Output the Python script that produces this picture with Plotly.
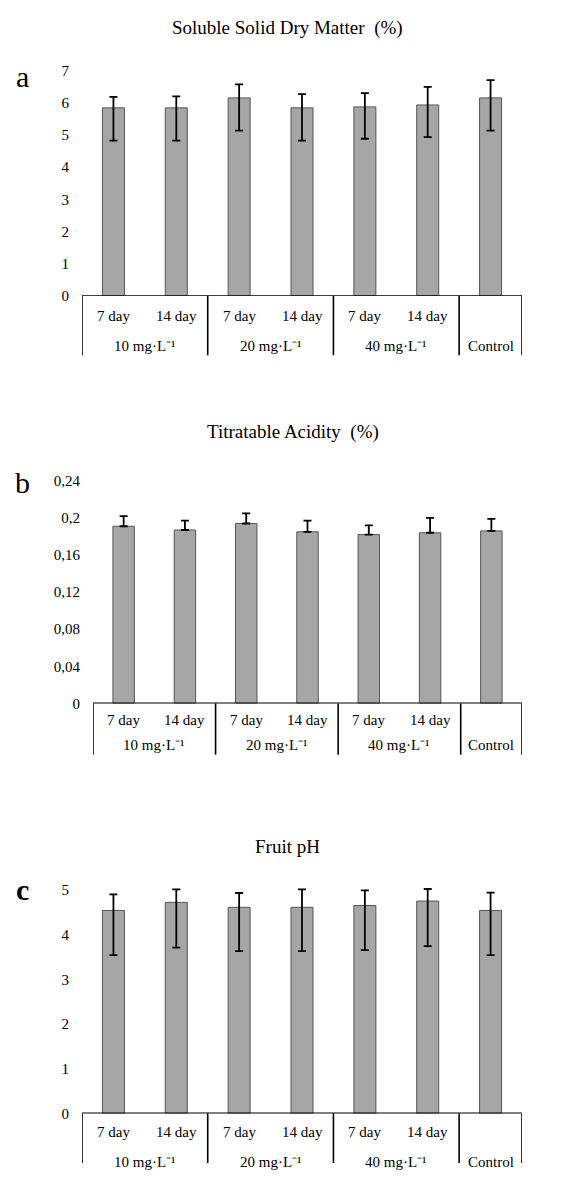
import plotly.graph_objects as go

# ---------------- data ----------------
day_labels = ["7 day", "14 day", "7 day", "14 day", "7 day", "14 day", ""]
group_labels = ["10 mg·L⁻¹", "20 mg·L⁻¹", "40 mg·L⁻¹", "Control"]
group_sizes = [2, 2, 2, 1]

ssdm = [5.84, 5.84, 6.15, 5.84, 5.87, 5.93, 6.15]
ssdm_plus = [0.34, 0.36, 0.42, 0.43, 0.43, 0.56, 0.55]
ssdm_minus = [1.02, 1.02, 1.02, 1.02, 0.99, 1.00, 1.02]

ta = [0.191, 0.187, 0.194, 0.185, 0.182, 0.184, 0.186]
ta_plus = [0.011, 0.010, 0.011, 0.012, 0.010, 0.016, 0.013]
ta_minus = [0, 0, 0, 0, 0, 0, 0]

ph = [4.54, 4.72, 4.61, 4.61, 4.65, 4.75, 4.54]
ph_plus = [0.36, 0.29, 0.32, 0.40, 0.34, 0.27, 0.40]
ph_minus = [1.00, 1.01, 0.98, 0.98, 1.00, 1.01, 1.00]

ssdm_ticks = [0, 1, 2, 3, 4, 5, 6, 7]
ta_ticks = [0, 0.04, 0.08, 0.12, 0.16, 0.2, 0.24]
ta_ticktext = ["0", "0,04", "0,08", "0,12", "0,16", "0,2", "0,24"]
ph_ticks = [0, 1, 2, 3, 4, 5]

titles = ["Soluble Solid Dry Matter  (%)", "Titratable Acidity  (%)", "Fruit pH"]
panel_letters = ["a", "b", "c"]

# ---------------- layout helpers ----------------
# the page body has an 8px default margin: size the figure so the page fits the window
PAGE_W, PAGE_H, BODY_M = 564, 1179, 8
W, H = PAGE_W - 2 * BODY_M, PAGE_H - 2 * BODY_M
FONT = "Liberation Serif"
BAR_FILL = "#a6a6a6"
BAR_LINE = "#555555"

def py(p):  # page pixel y -> paper y
    return 1 - (p - BODY_M) / H

def px(p):  # page pixel x -> paper x
    return (p - BODY_M) / W

panels = [
    dict(vals=ssdm, plus=ssdm_plus, minus=ssdm_minus, yrange=[0, 7],
         tickvals=ssdm_ticks, ticktext=[str(t) for t in ssdm_ticks],
         xdom=[px(82), px(522)], ydom=[py(291.7), py(63.3)],
         day_shift=-20, grp_shift=-50, div_px=(291.7, 352),
         title_xy=(287, 20), letter_xy=(22, 69), letter_bold=False),
    dict(vals=ta, plus=ta_plus, minus=ta_minus, yrange=[0, 0.24],
         tickvals=ta_ticks, ticktext=ta_ticktext,
         xdom=[px(93), px(522)], ydom=[py(705), py(479.3)],
         day_shift=-17, grp_shift=-42, div_px=(705, 757),
         title_xy=(293, 430), letter_xy=(22, 481), letter_bold=False),
    dict(vals=ph, plus=ph_plus, minus=ph_minus, yrange=[0, 5.05],
         tickvals=ph_ticks, ticktext=[str(t) for t in ph_ticks],
         xdom=[px(82), px(522)], ydom=[py(1120.7), py(891.8)],
         day_shift=-19, grp_shift=-49, div_px=(1120.7, 1171),
         title_xy=(287, 850), letter_xy=(22, 894), letter_bold=True),
]

fig = go.Figure()
shapes = []
annotations = []
xs = list(range(len(day_labels)))

# group boundaries (in category units)
bounds = [-0.5]
for s in group_sizes:
    bounds.append(bounds[-1] + s)
group_centers = [(bounds[i] + bounds[i + 1]) / 2 for i in range(len(group_sizes))]

for i, p in enumerate(panels):
    n = "" if i == 0 else str(i + 1)
    xa, ya = "x" + n, "y" + n
    fig.add_trace(go.Bar(
        x=xs, y=p["vals"], xaxis=xa, yaxis=ya, width=0.35,
        marker=dict(color=BAR_FILL, line=dict(color=BAR_LINE, width=1)),
        error_y=dict(type="data", symmetric=False, array=p["plus"],
                     arrayminus=p["minus"], color="black", thickness=1.8, width=4),
        showlegend=False, hoverinfo="skip",
    ))
    fig.layout["xaxis" + n] = dict(
        domain=p["xdom"], anchor=ya, range=[bounds[0], bounds[-1]],
        showticklabels=False, showgrid=False, zeroline=False, showline=False, ticks="")
    fig.layout["yaxis" + n] = dict(
        domain=p["ydom"], anchor=xa, range=p["yrange"],
        tickvals=p["tickvals"], ticktext=p["ticktext"],
        showgrid=False, zeroline=False, showline=False, ticks="",
        ticklabelstandoff=12,
        tickfont=dict(family=FONT, size=15, color="black"))

    # baseline
    shapes.append(dict(type="line", xref=xa, yref=ya, x0=bounds[0], x1=bounds[-1],
                       y0=0, y1=0, line=dict(color="black", width=1.6)))
    # dividers (paper y so they are not clipped to the plot area)
    d0, d1 = p["div_px"]
    for b in bounds:
        shapes.append(dict(type="line", xref=xa, yref="paper",
                           x0=b, x1=b, y0=py(d0), y1=py(d1),
                           line=dict(color="black", width=1.6)))
    # day labels
    for x, lab in zip(xs, day_labels):
        if lab:
            annotations.append(dict(x=x, y=0, xref=xa, yref=ya, text=lab, showarrow=False,
                                    yshift=p["day_shift"], yanchor="middle",
                                    font=dict(family=FONT, size=15, color="black")))
    # group labels
    for cx, lab in zip(group_centers, group_labels):
        annotations.append(dict(x=cx, y=0, xref=xa, yref=ya, text=lab, showarrow=False,
                                yshift=p["grp_shift"], yanchor="middle",
                                font=dict(family=FONT, size=15, color="black")))
    # title
    tx, ty = p["title_xy"]
    annotations.append(dict(x=px(tx), y=py(ty), xref="paper", yref="paper",
                            text=titles[i], showarrow=False, xanchor="center",
                            yanchor="middle",
                            font=dict(family=FONT, size=19, color="black")))
    # panel letter
    lx, ly = p["letter_xy"]
    letter = f"<b>{panel_letters[i]}</b>" if p["letter_bold"] else panel_letters[i]
    annotations.append(dict(x=px(lx), y=py(ly), xref="paper", yref="paper",
                            text=letter, showarrow=False, xanchor="center",
                            yanchor="middle",
                            font=dict(family=FONT, size=30, color="black")))

fig.update_layout(
    width=W, height=H,
    margin=dict(l=0, r=0, t=0, b=0),
    paper_bgcolor="white", plot_bgcolor="white",
    shapes=shapes, annotations=annotations,
    bargap=0.65, showlegend=False,
)

fig.write_html("out.html")
